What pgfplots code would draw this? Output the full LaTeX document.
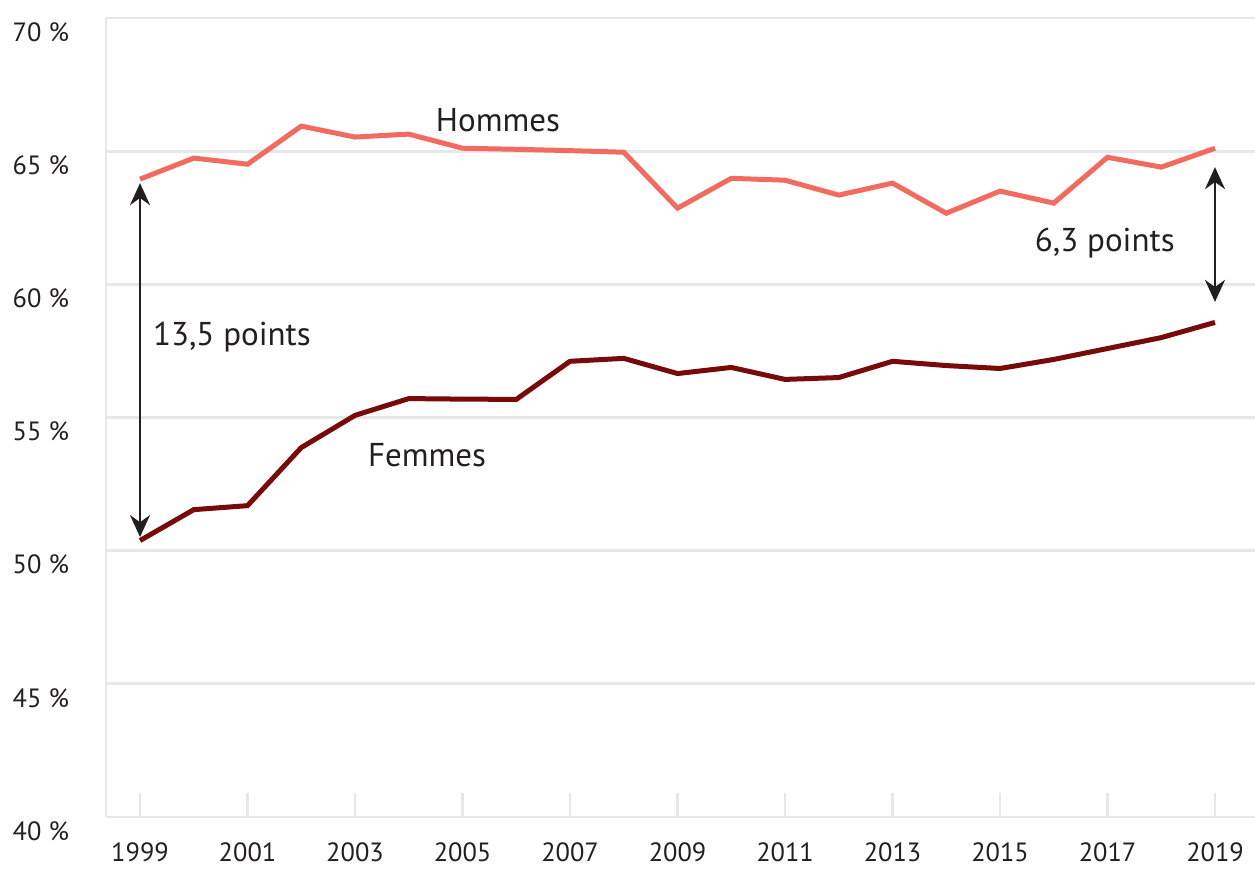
\documentclass[border=0pt]{standalone}
\usepackage{pgfplots}
\pgfplotsset{compat=1.18}
\usepackage{fontspec}
\setmainfont{PT Sans}
\usetikzlibrary{arrows.meta}
\definecolor{hom}{HTML}{F26B60}
\definecolor{fem}{HTML}{780A0A}
\definecolor{gridc}{HTML}{E6E7E8}
\definecolor{txt}{HTML}{231F20}
\begin{document}
\begin{tikzpicture}[x=1pt,y=1pt]
\path[use as bounding box] (-53,-26) rectangle (574.5,408.5);
\begin{axis}[
  at={(0,0)}, anchor=origin,
  scale only axis,
  width=574.5pt, height=399.5pt,
  xmin=1998.367, xmax=2019.744,
  ymin=40, ymax=70,
  axis x line*=bottom, axis y line*=left,
  axis line style={gridc, line width=1.4pt},
  xtick={1999,2001,...,2019},
  xticklabels={1999,2001,2003,2005,2007,2009,2011,2013,2015,2017,2019},
  ytick={40,45,...,70},
  yticklabels={40 \%,45 \%,50 \%,55 \%,60 \%,65 \%,70 \%},
  ymajorgrids,
  grid style={gridc, line width=1.4pt},
  tick style={gridc, line width=1.4pt},
  xtick align=inside,
  major tick length=12pt,
  ytick style={draw=none},
  tick label style={font=\fontsize{13.2}{15}\selectfont, text=txt},
  xticklabel style={yshift=-9.5pt},
  yticklabel style={xshift=-15pt, yshift=-7pt},
  clip=false,
]
\addplot[hom, line width=2.5pt, line join=miter] coordinates {
(1999,63.95) (2000,64.74) (2001,64.51) (2002,65.94) (2003,65.53) (2004,65.64)
(2005,65.11) (2006,65.07) (2007,65.02) (2008,64.96) (2009,62.86) (2010,63.98)
(2011,63.91) (2012,63.35) (2013,63.80) (2014,62.67) (2015,63.50) (2016,63.05)
(2017,64.77) (2018,64.40) (2019,65.11)
};
\addplot[fem, line width=2.5pt, line join=miter] coordinates {
(1999,50.38) (2000,51.54) (2001,51.69) (2002,53.87) (2003,55.08) (2004,55.71)
(2005,55.69) (2006,55.68) (2007,57.11) (2008,57.22) (2009,56.65) (2010,56.88)
(2011,56.43) (2012,56.50) (2013,57.11) (2014,56.95) (2015,56.84) (2016,57.18)
(2017,57.59) (2018,58.00) (2019,58.57)
};
\draw[txt, line width=1.2pt, {Stealth[length=11pt,width=10pt]}-{Stealth[length=11pt,width=10pt]}]
  (axis cs:1999,63.80) -- (axis cs:1999,50.51);
\draw[txt, line width=1.2pt, {Stealth[length=11pt,width=10pt]}-{Stealth[length=11pt,width=10pt]}]
  (axis cs:2019,64.40) -- (axis cs:2019,59.34);
\node[txt, font=\fontsize{16.5}{18}\selectfont] at (axis cs:2005.66,66.17) {Hommes};
\node[txt, font=\fontsize{16.5}{18}\selectfont] at (axis cs:2004.34,53.59) {Femmes};
\node[txt, font=\fontsize{16.5}{18}\selectfont] at (axis cs:2000.71,58.02) {13,5 points};
\node[txt, font=\fontsize{16.5}{18}\selectfont] at (axis cs:2016.95,61.55) {6,3 points};
\end{axis}
\end{tikzpicture}
\end{document}
